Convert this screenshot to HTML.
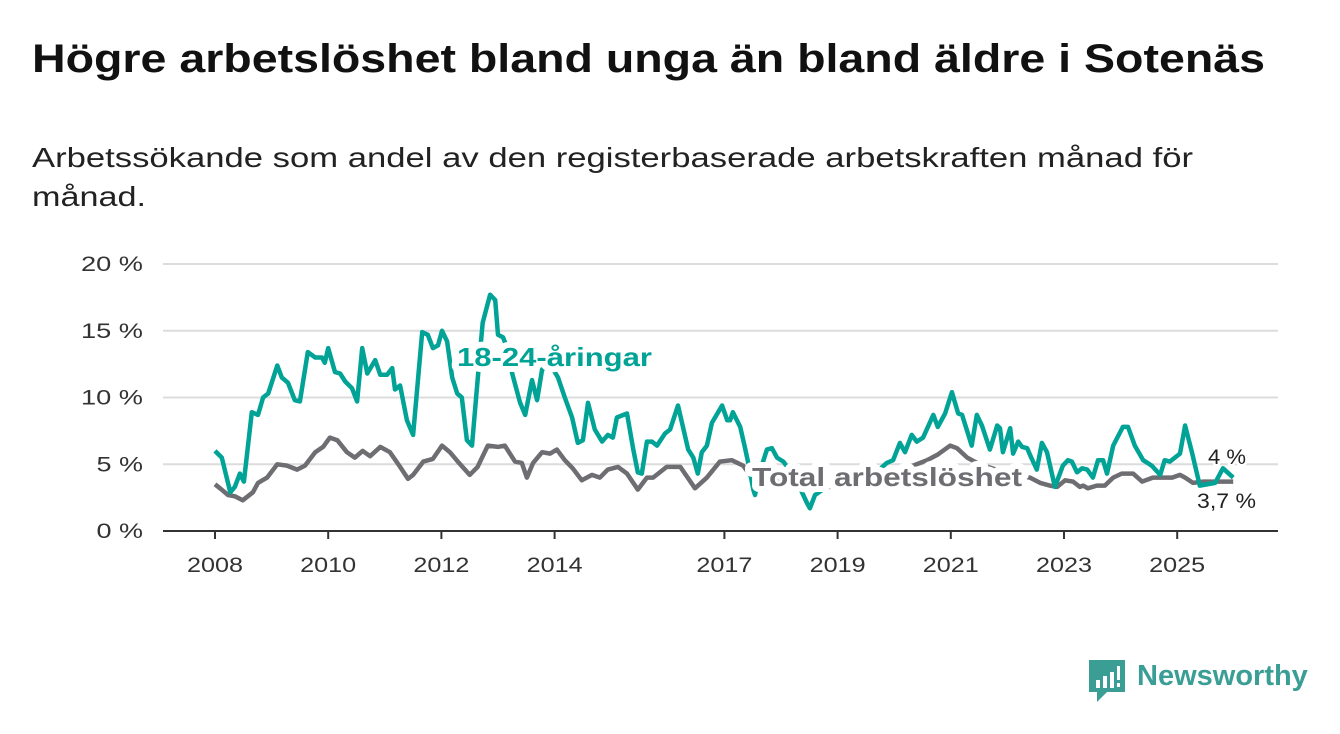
<!DOCTYPE html>
<html><head><meta charset="utf-8"><style>
body{margin:0;width:1340px;height:734px;background:#fff;font-family:"Liberation Sans",sans-serif;overflow:hidden;position:relative}
.fit{position:absolute;left:32px;margin:0;white-space:nowrap;transform-origin:0 0;display:inline-block}
#title{top:37px;font-size:40px;font-weight:bold;color:#111}
.sub{font-size:28px;color:#222}
svg{position:absolute;left:0;top:0}
</style></head><body>
<h1 id="title" class="fit" data-fit="1233">Högre arbetslöshet bland unga än bland äldre i Sotenäs</h1>
<div class="fit sub" style="top:142px" data-fit="1161">Arbetssökande som andel av den registerbaserade arbetskraften månad för</div>
<div class="fit sub" style="top:181px" data-fit="114">månad.</div>
<svg id="chart" width="1340" height="734"></svg>
<div style="position:absolute;left:1089px;top:660px;">
<svg width="38" height="44" style="position:static"><path d="M0 0H36V32H18L8 42V32H0Z" fill="#3a9e95"/><rect x="7" y="20" width="4" height="8" fill="#fff"/><rect x="14" y="16" width="4" height="12" fill="#fff"/><rect x="21" y="12" width="4" height="16" fill="#fff"/><rect x="28" y="6" width="3" height="14" fill="#fff"/><rect x="28" y="23" width="3" height="4" fill="#fff"/></svg>
<span style="position:absolute;left:48px;top:0px;font-size:29px;color:#3a9e95;font-weight:bold;white-space:nowrap">Newsworthy</span>
</div>
<script>
const yTicks=[0,5,10,15,20];
const xTicks=[2008,2010,2012,2014,2017,2019,2021,2023,2025];
const youthDates=[0,.12,.27,.35,.44,.51,.65,.76,.85,.94,1.10,1.18,1.29,1.41,1.50,1.64,1.77,1.89,1.94,2.00,2.12,2.21,2.30,2.42,2.51,2.60,2.69,2.83,2.92,3.04,3.13,3.18,3.27,3.39,3.50,3.66,3.76,3.85,3.94,4.01,4.10,4.19,4.28,4.36,4.45,4.54,4.68,4.73,4.86,4.95,5.00,5.09,5.18,5.25,5.39,5.48,5.60,5.69,5.78,5.92,6.06,6.18,6.31,6.41,6.50,6.59,6.71,6.84,6.94,7.03,7.10,7.28,7.39,7.47,7.54,7.63,7.72,7.81,7.95,8.04,8.18,8.36,8.45,8.53,8.60,8.69,8.78,8.96,9.05,9.10,9.15,9.28,9.36,9.42,9.51,9.54,9.63,9.75,9.84,9.93,10.04,10.25,10.46,10.51,10.60,10.87,11.13,11.40,11.66,11.87,11.98,12.10,12.19,12.31,12.40,12.51,12.69,12.77,12.90,13.02,13.13,13.20,13.37,13.46,13.55,13.69,13.82,13.87,13.92,14.05,14.10,14.19,14.26,14.35,14.40,14.52,14.61,14.70,14.84,14.98,15.07,15.14,15.23,15.32,15.41,15.51,15.60,15.69,15.76,15.87,16.04,16.13,16.25,16.40,16.55,16.70,16.78,16.87,17.05,17.14,17.26,17.40,17.67,17.81,17.99];
const youthValues=[6.0,5.5,2.9,3.3,4.3,3.7,8.9,8.7,10.0,10.3,12.4,11.5,11.1,9.8,9.7,13.4,13.0,13.0,12.6,13.7,11.9,11.8,11.2,10.7,9.7,13.7,11.8,12.8,11.7,11.7,12.2,10.6,10.9,8.3,7.2,14.9,14.7,13.7,13.9,15.0,14.2,11.5,10.3,10.0,6.8,6.4,13.3,15.6,17.7,17.3,14.7,14.5,13.5,11.8,9.6,8.7,11.3,9.8,12.1,12.5,11.5,10.0,8.5,6.6,6.8,9.6,7.6,6.7,7.2,7.0,8.5,8.8,6.1,4.4,4.3,6.7,6.7,6.4,7.3,7.6,9.4,6.1,5.5,4.3,5.9,6.4,8.1,9.4,8.3,8.3,8.9,7.8,6.3,5.1,3.1,2.7,4.5,6.1,6.2,5.5,5.2,4.0,2.1,1.7,2.7,3.5,3.8,4.0,4.3,5.1,5.3,6.6,5.9,7.2,6.7,7.0,8.7,7.8,8.8,10.4,8.8,8.7,6.4,8.7,7.9,6.1,7.9,7.7,5.9,7.7,5.8,6.7,6.3,6.2,5.7,4.6,6.6,5.9,3.3,4.9,5.3,5.2,4.4,4.7,4.6,4.0,5.3,5.3,4.3,6.4,7.8,7.8,6.4,5.3,4.9,4.2,5.3,5.2,5.8,7.9,5.9,3.4,3.6,4.7,4.0];
const totalDates=[0,.09,.23,.35,.49,.67,.76,.92,1.10,1.27,1.45,1.59,1.77,1.91,2.03,2.16,2.33,2.47,2.61,2.74,2.92,3.09,3.27,3.41,3.50,3.68,3.85,4.01,4.15,4.29,4.50,4.64,4.82,5.00,5.12,5.30,5.42,5.51,5.62,5.78,5.92,6.04,6.18,6.32,6.48,6.66,6.80,6.94,7.12,7.28,7.47,7.63,7.74,7.98,8.22,8.48,8.69,8.92,9.13,9.33,9.45,9.80,10.16,10.51,10.87,11.22,11.57,11.93,12.28,12.58,12.76,12.99,13.11,13.29,13.51,13.87,14.13,14.40,14.58,14.75,14.88,15.02,15.16,15.28,15.34,15.42,15.58,15.72,15.87,16.02,16.22,16.38,16.57,16.75,16.91,17.05,17.14,17.28,17.46,17.71,17.99];
const totalValues=[3.5,3.2,2.7,2.6,2.3,2.9,3.6,4.0,5.0,4.9,4.6,4.9,5.9,6.3,7.0,6.8,5.9,5.5,6.0,5.6,6.3,5.9,4.8,3.9,4.2,5.2,5.4,6.4,5.9,5.2,4.2,4.8,6.4,6.3,6.4,5.2,5.1,4.0,5.1,5.9,5.8,6.1,5.3,4.7,3.8,4.2,4.0,4.6,4.8,4.3,3.1,4.0,4.0,4.8,4.8,3.2,4.0,5.2,5.3,4.9,4.2,3.8,3.5,3.2,3.3,3.6,3.9,4.3,4.8,5.3,5.7,6.4,6.2,5.5,5.0,4.5,4.2,4.0,3.6,3.4,3.3,3.8,3.7,3.3,3.4,3.2,3.4,3.4,4.0,4.3,4.3,3.7,4.0,4.0,4.0,4.2,4.0,3.6,3.7,3.7,3.7];
document.querySelectorAll('[data-fit]').forEach(el=>{
  const w=el.getBoundingClientRect().width;
  el.style.transform='scaleX('+(+el.dataset.fit/w)+')';
});
const NS='http://www.w3.org/2000/svg';
const svg=document.getElementById('chart');
const X=d=>215+d*56.6, XY=y=>X(y-2008), Y=v=>531-v*13.35;
function mk(t,a,p){const e=document.createElementNS(NS,t);for(const k in a)e.setAttribute(k,a[k]);(p||svg).appendChild(e);return e;}
yTicks.forEach(v=>{
  if(v>0){const g=mk('line',{x1:163,x2:1278,y1:Y(v),y2:Y(v),stroke:'#dcdcdc','stroke-width':2});
  
  }
  const s=v+' %';
  const t=mk('text',{x:143,y:Y(v)+7,'text-anchor':'end','font-size':21,fill:'#333','font-family':'Liberation Sans, sans-serif',textLength:s.length*15.5,lengthAdjust:'spacingAndGlyphs'});
  t.textContent=s;
  
  
});
const ax=mk('line',{x1:163,x2:1278,y1:531,y2:531,stroke:'#333','stroke-width':2});


xTicks.forEach(yr=>{
  mk('line',{x1:XY(yr),x2:XY(yr),y1:531,y2:539,stroke:'#333','stroke-width':2});
  const t=mk('text',{x:XY(yr),y:572,'text-anchor':'middle','font-size':21,fill:'#333','font-family':'Liberation Sans, sans-serif',textLength:56,lengthAdjust:'spacingAndGlyphs'});
  t.textContent=yr;
  
  
});
function line(ds,vs,col,name){
  const d=ds.map((x,i)=>(i?'L':'M')+X(x).toFixed(1)+' '+Y(vs[i]).toFixed(1)).join('');
  const p=mk('path',{d:d,fill:'none',stroke:col,'stroke-width':4.5,'stroke-linejoin':'round'});
  
  
}
line(totalDates,totalValues,'#6e6d72','total-line');
line(youthDates,youthValues,'#00a396','youth-line');
function lab(x,y,txt,col,size,bold,name,len,halo){
  const t=mk('text',{x:x,y:y,fill:col,'font-size':size,'font-weight':bold?'bold':'normal',stroke:'#fff','stroke-width':halo,'paint-order':'stroke','stroke-linejoin':'round','font-family':'Liberation Sans, sans-serif',textLength:len,lengthAdjust:'spacingAndGlyphs'});
  t.textContent=txt;
  
  
}
lab(457,366,'18-24-åringar','#00a396',26,true,'youth-series-label',195,12);
lab(752,486,'Total arbetslöshet','#6e6d72',26,true,'total-series-label',270,12);
lab(1208,464,'4 %','#222',21,false,'youth-end-value',38,5);
lab(1197,508,'3,7 %','#222',21,false,'total-end-value',59,5);
</script>
</body></html>
